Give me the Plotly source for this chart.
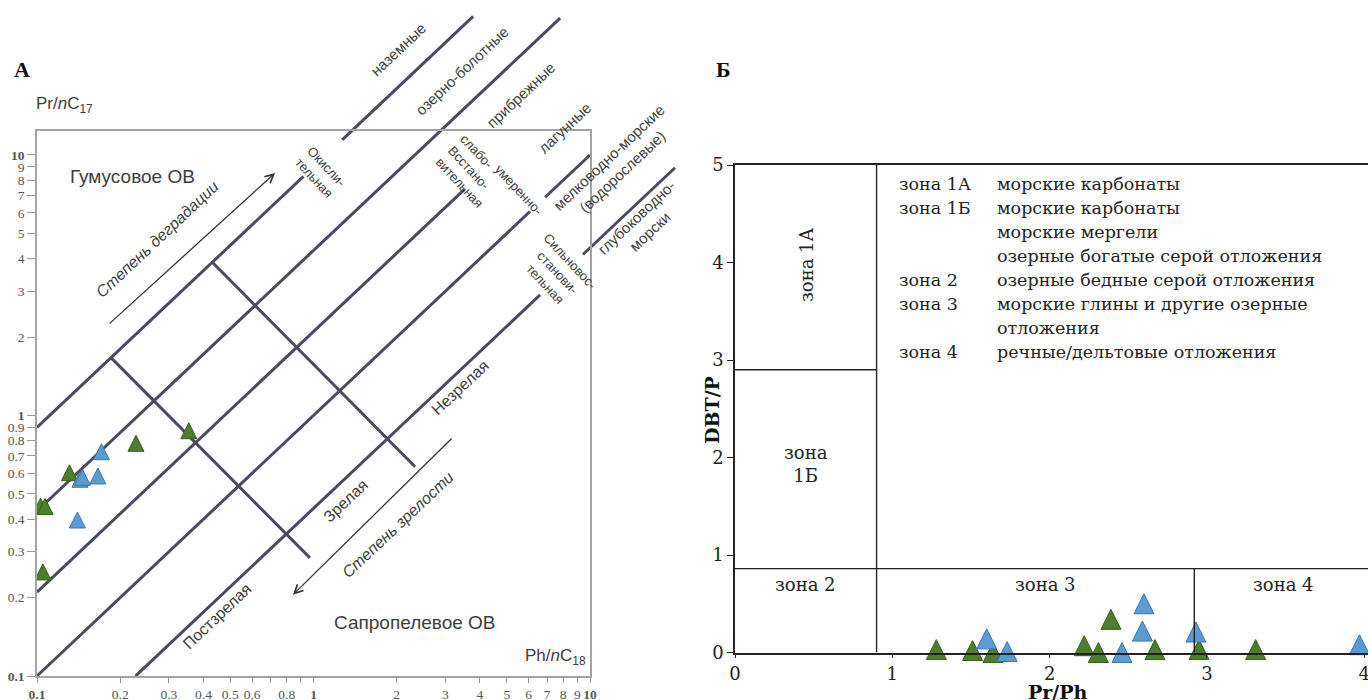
import math
import plotly.graph_objects as go

W, H = 1368, 700

# ---------------- Panel A data (Pr/nC17 vs Ph/nC18, log-log) ----------------
a_green_x = [0.103, 0.107, 0.131, 0.228, 0.354, 0.105]
a_green_y = [0.449, 0.447, 0.603, 0.782, 0.874, 0.251]
a_blue_x = [0.171, 0.143, 0.146, 0.166, 0.140]
a_blue_y = [0.726, 0.569, 0.579, 0.586, 0.397]

# environment boundaries: Pr/nC17 = ratio * Ph/nC18 over x-intervals
env_ratio = [9.0, 4.3, 2.1, 1.0, 0.44]
env_x_from = [[0.1, 1.27], [0.1], [0.1], [0.1, 6.88], [0.227, 9.43]]
env_x_to = [[0.92, 3.78], [7.8], [3.53], [6.07, 10.0], [6.6, 20.3]]

# maturity boundaries (end points)
mat_x0 = [0.184, 0.433]
mat_y0 = [1.678, 3.85]
mat_x1 = [0.971, 2.33]
mat_y1 = [0.284, 0.636]

# arrows (tail -> head)
degr_x = [0.181, 0.726]
degr_y = [2.23, 8.53]
matur_x = [3.2, 0.843]
matur_y = [0.827, 0.205]

a_ticks = [0.1, 0.2, 0.3, 0.4, 0.5, 0.6, 0.7, 0.8, 0.9, 1, 2, 3, 4, 5, 6, 7, 8, 9, 10]
a_xlabels = ["<b>0.1</b>", "0.2", "0.3", "0.4", "0.5", "0.6", "", "0.8", "", "<b>1</b>",
             "2", "3", "4", "5", "6", "7", "8", "9", "<b>10</b>"]
a_ylabels = ["<b>0.1</b>", "0.2", "0.3", "0.4", "0.5", "0.6", "0.7", "0.8", "0.9", "<b>1</b>",
             "2", "3", "4", "5", "6", "7", "8", "9", "<b>10</b>"]

# ---------------- Panel B data (DBT/P vs Pr/Ph) ----------------
b_green_x = [1.28, 1.51, 1.64, 2.22, 2.31, 2.39, 2.67, 2.95, 3.31]
b_green_y = [0.03, 0.02, 0.00, 0.07, 0.00, 0.34, 0.03, 0.03, 0.03]
b_blue_x = [1.60, 1.73, 2.46, 2.60, 2.59, 2.93, 3.97]
b_blue_y = [0.14, 0.01, 0.00, 0.50, 0.22, 0.21, 0.08]

zone_x = [0.9, 2.92]
zone_y = [2.9, 0.86]
b_xticks = [0, 1, 2, 3, 4]
b_yticks = [0, 1, 2, 3, 4, 5]

legend_codes = ["зона 1А", "зона 1Б", "", "", "зона 2", "зона 3", "", "зона 4"]
legend_desc = ["морские карбонаты", "морские карбонаты", "морские мергели",
               "озерные богатые серой отложения", "озерные бедные серой отложения",
               "морские глины и другие озерные", "отложения",
               "речные/дельтовые отложения"]

# ---------------- styles ----------------
GREEN, GREEN_E = "#4d7e2c", "#375f1c"
BLUE, BLUE_E = "#5b9bd5", "#3f75a8"
LINE = "#4b4b60"
BOX = "#a3a3a3"
TXT = "#3d3d3d"
SANS = "Liberation Sans, Arial, sans-serif"
SERIF_A = "Liberation Serif, Times New Roman, serif"
SERIF_B = "DejaVu Serif, serif"

# axes geometry
xd = [37 / W, 590 / W]
xr = [-1, 1]
yd = [1 - 676 / H, 1 - 131 / H]
yr = [-1, math.log10(12.36)]


def extend(dom, rng, newdom):
    s = (rng[1] - rng[0]) / (dom[1] - dom[0])
    return [rng[0] + (newdom[0] - dom[0]) * s, rng[0] + (newdom[1] - dom[0]) * s]


ovx = extend(xd, xr, [0, 0.5])
ovy = extend(yd, yr, [0, 1])

b_xd = [735 / W, 1]
b_xmax = (W - 735) / 157.3
b_yd = [1 - 652.5 / H, 1 - 165 / H]

fig = go.Figure()

# ---- lines of panel A (on overlay axes x/y that cover the whole left half) ----
lx, ly = [], []
for k, xs_list, xe_list in zip(env_ratio, env_x_from, env_x_to):
    for xs, xe in zip(xs_list, xe_list):
        lx += [xs, xe, None]
        ly += [k * xs, k * xe, None]
for x0, y0, x1, y1 in zip(mat_x0, mat_y0, mat_x1, mat_y1):
    lx += [x0, x1, None]
    ly += [y0, y1, None]
fig.add_trace(go.Scatter(x=lx, y=ly, mode="lines", line=dict(color=LINE, width=3),
                         xaxis="x", yaxis="y", hoverinfo="skip", showlegend=False))


def tri(size, color, edge):
    return dict(symbol="arrow-down", angle=180, standoff=size / 2, size=size,
                color=color, line=dict(color=edge, width=1))


# ---- markers panel A (visible box axes x3/y3) ----
fig.add_trace(go.Scatter(x=a_green_x, y=a_green_y, mode="markers", marker=tri(16, GREEN, GREEN_E),
                         xaxis="x3", yaxis="y3", showlegend=False))
fig.add_trace(go.Scatter(x=a_blue_x, y=a_blue_y, mode="markers", marker=tri(16, BLUE, BLUE_E),
                         xaxis="x3", yaxis="y3", showlegend=False))

# ---- markers panel B ----
fig.add_trace(go.Scatter(x=b_green_x, y=b_green_y, mode="markers", marker=tri(20, GREEN, GREEN_E),
                         xaxis="x2", yaxis="y2", showlegend=False, cliponaxis=False))
fig.add_trace(go.Scatter(x=b_blue_x, y=b_blue_y, mode="markers", marker=tri(20, BLUE, BLUE_E),
                         xaxis="x2", yaxis="y2", showlegend=False, cliponaxis=False))

# ---- zone lines panel B ----
shapes = [
    dict(type="line", xref="x2", yref="y2", x0=zone_x[0], x1=zone_x[0], y0=0, y1=5),
    dict(type="line", xref="x2", yref="y2", x0=0, x1=zone_x[0], y0=zone_y[0], y1=zone_y[0]),
    dict(type="line", xref="x2", yref="y2", x0=0, x1=b_xmax, y0=zone_y[1], y1=zone_y[1]),
    dict(type="line", xref="x2", yref="y2", x0=zone_x[1], x1=zone_x[1], y0=0, y1=zone_y[1]),
]
for s in shapes:
    s["line"] = dict(color="#222", width=1.4)

ann = []


def lab(text, x, y, angle=0, size=15, italic=False, align="center", font=SANS, color=TXT,
        xref="x", yref="y"):
    if italic:
        text = "<i>" + text + "</i>"
    ann.append(dict(text=text, x=x, y=y, xref=xref, yref=yref, showarrow=False,
                    xanchor="center", yanchor="middle",
                    textangle=angle, align=align, font=dict(family=font, size=size, color=color)))


# arrows of panel A
for xs, ys in [(degr_x, degr_y), (matur_x, matur_y)]:
    ann.append(dict(text="", x=math.log10(xs[1]), y=math.log10(ys[1]),
                    ax=math.log10(xs[0]), ay=math.log10(ys[0]), xref="x", yref="y",
                    axref="x", ayref="y", showarrow=True, arrowhead=5, arrowsize=1.3,
                    arrowwidth=1.3, arrowcolor="#333"))

A = -43.3
B = 47
lab("Гумусовое ОВ", -0.656, 0.919, size=19)
lab("Степень деградации", -0.566, 0.674, A, 16, italic=True)
lab("Окисли-<br>тельная", 0.0235, 0.935, B, 13)
lab("наземные", 0.306, 1.403, A, 15)
lab("озерно-болотные", 0.537, 1.326, A, 15)
lab("прибрежные", 0.747, 1.230, A, 15)
lab("лагунные", 0.910, 1.104, A, 15)
lab("мелководно-морские<br>(водорослевые)", 1.094, 0.962, A, 15)
lab("глубоководно-<br>морски", 1.192, 0.735, A, 15)
lab("слабо-<br>Всстано-<br>вительная", 0.573, 0.935, B, 13, align="left")
lab("умеренно-", 0.740, 0.866, B, 13)
lab("Сильновос-<br>станови-<br>тельная", 0.881, 0.547, B, 13)
lab("Незрелая", 0.530, 0.109, A, 16)
lab("Зрелая", 0.1175, -0.328, A, 16)
lab("Постзрелая", -0.349, -0.7735, A, 16)
lab("Степень зрелости", 0.306, -0.420, A, 16, italic=True)
lab("Сапропелевое ОВ", 0.367, -0.793, size=19)
lab("Ph/<i>n</i>C<sub>18</sub>", 0.877, -0.927, size=17)
lab("Pr/<i>n</i>C<sub>17</sub>", -0.899, 1.192, size=17)
lab("<b>А</b>", 22 / W, 1 - 70 / H, size=22, font=SERIF_A, color="#111", xref="paper", yref="paper")
lab("<b>Б</b>", 723 / W, 1 - 70 / H, size=22, font=SERIF_A, color="#111", xref="paper", yref="paper")

# panel B texts
BT = "#222"
row_step = 24 / 97.5
for i, (c, d) in enumerate(zip(legend_codes, legend_desc)):
    yy = 4.805 - i * row_step
    if c:
        ann.append(dict(text=c, x=1.03, y=yy, xref="x2", yref="y2", showarrow=False,
                        xanchor="left", yanchor="middle",
                        font=dict(family=SERIF_B, size=17.5, color=BT)))
    ann.append(dict(text=d, x=1.653, y=yy, xref="x2", yref="y2", showarrow=False,
                    xanchor="left", yanchor="middle",
                    font=dict(family=SERIF_B, size=17.5, color=BT)))

lab("зона 1А", 0.455, 3.98, -90, 18, font=SERIF_B, color=BT, xref="x2", yref="y2")
lab("зона<br>1Б", 0.451, 1.93, 0, 18, font=SERIF_B, color=BT, xref="x2", yref="y2")
lab("зона 2", 0.451, 0.70, 0, 18, font=SERIF_B, color=BT, xref="x2", yref="y2")
lab("зона 3", 1.971, 0.70, 0, 18, font=SERIF_B, color=BT, xref="x2", yref="y2")
lab("зона 4", 3.484, 0.70, 0, 18, font=SERIF_B, color=BT, xref="x2", yref="y2")
lab("<b>DBT/P</b>", 712 / W, 1 - 410 / H, -90, 19, font=SERIF_B, color="#111", xref="paper", yref="paper")
lab("<b>Pr/Ph</b>", 1058 / W, 1 - 692 / H, 0, 19, font=SERIF_B, color="#111", xref="paper", yref="paper")

tickA = dict(family=SERIF_A, size=13.5, color="#555")
tickB = dict(family=SERIF_B, size=18, color="#222")

fig.update_layout(
    template="none",
    width=W, height=H, margin=dict(l=0, r=0, t=0, b=0, pad=0, autoexpand=False), autosize=False,
    paper_bgcolor="white", plot_bgcolor="rgba(0,0,0,0)",
    showlegend=False, annotations=ann, shapes=shapes,
    xaxis=dict(type="log", domain=[0, 0.5], range=ovx, visible=False, anchor="y",
               fixedrange=True, automargin=False),
    yaxis=dict(type="log", domain=[0, 1], range=ovy, visible=False, anchor="x",
               fixedrange=True, automargin=False),
    xaxis3=dict(type="log", domain=xd, range=xr, anchor="y3", showgrid=False, zeroline=False,
                showline=True, mirror=True, linecolor=BOX, linewidth=1.5, automargin=False,
                ticks="outside", ticklen=5, tickcolor="#999", tickwidth=1,
                ticklabeloverflow="allow",
                tickvals=a_ticks, ticktext=a_xlabels, tickfont=tickA, tickangle=0),
    yaxis3=dict(type="log", domain=yd, range=yr, anchor="x3", showgrid=False, zeroline=False,
                showline=True, mirror=True, linecolor=BOX, linewidth=1.5, automargin=False,
                ticks="outside", ticklen=8, tickcolor="#999", tickwidth=1,
                ticklabeloverflow="allow",
                tickvals=a_ticks, ticktext=a_ylabels, tickfont=tickA),
    xaxis2=dict(domain=b_xd, range=[0, b_xmax], anchor="y2", showgrid=False, zeroline=False,
                showline=True, mirror=True, linecolor="#222", linewidth=1.5, automargin=False,
                ticks="outside", ticklen=4, tickcolor="#222", tickvals=b_xticks, tickfont=tickB,
                ticklabeloverflow="allow"),
    yaxis2=dict(domain=b_yd, range=[0, 5], anchor="x2", showgrid=False, zeroline=False,
                showline=True, linecolor="#222", linewidth=1.5, automargin=False,
                ticks="outside", ticklen=6, tickcolor="#222", tickvals=b_yticks, tickfont=tickB,
                ticklabeloverflow="allow"),
)

fig.write_html("out.html")
